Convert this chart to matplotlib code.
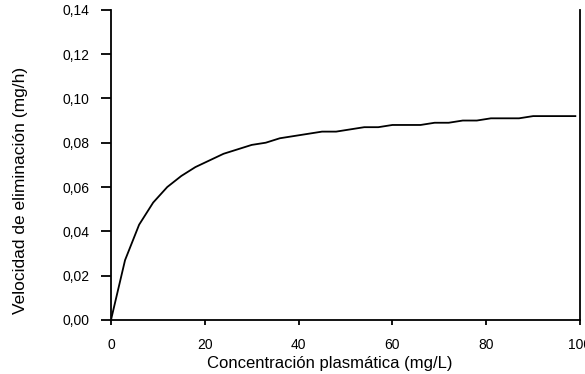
import numpy as np
from matplotlib import pyplot as plt
from matplotlib.ticker import FuncFormatter

# plasma concentration (mg/L) and elimination rate (mg/h)
concentracion = [0, 3, 6, 9, 12, 15, 18, 21, 24, 27, 30, 33, 36, 39, 42, 45, 48,
                 51, 54, 57, 60, 63, 66, 69, 72, 75, 78, 81, 84, 87, 90, 93, 96, 99]
velocidad = [0.000, 0.027, 0.043, 0.053, 0.060, 0.065, 0.069, 0.072, 0.075,
             0.077, 0.079, 0.080, 0.082, 0.083, 0.084, 0.085, 0.085, 0.086,
             0.087, 0.087, 0.088, 0.088, 0.088, 0.089, 0.089, 0.090, 0.090,
             0.091, 0.091, 0.091, 0.092, 0.092, 0.092, 0.092]

xticks = [0, 20, 40, 60, 80, 100]
yticks = [0.00, 0.02, 0.04, 0.06, 0.08, 0.10, 0.12, 0.14]

plt.rcParams['font.family'] = ['Liberation Sans', 'DejaVu Sans']

fig = plt.figure(figsize=(5.85, 3.74), dpi=100)
ax = fig.add_axes([0.1897, 0.1444, 0.8018, 0.8296])

ax.plot(concentracion, velocidad, color='black', linewidth=1.3)

ax.set_xlim(0, 100)
ax.set_ylim(0, 0.14)
ax.set_xticks(xticks)
ax.set_yticks(yticks)
ax.xaxis.set_major_formatter(FuncFormatter(lambda v, p: '%d' % v))
ax.yaxis.set_major_formatter(FuncFormatter(lambda v, p: ('%.2f' % v).replace('.', ',')))

ax.spines['top'].set_visible(False)
for side in ['left', 'bottom', 'right']:
    ax.spines[side].set_linewidth(1.3)
ax.tick_params(axis='y', direction='out', length=7.5, width=1.3, pad=8, labelsize=10)
ax.tick_params(axis='x', direction='out', length=3.8, width=1.3, pad=9, labelsize=10)

ax.set_xlabel('Concentración plasmática (mg/L)', fontsize=12)
ax.set_ylabel('Velocidad de eliminación (mg/h)', fontsize=12.5)
ax.xaxis.set_label_coords(0.467, -0.115)
ax.yaxis.set_label_coords(-0.177, 0.416)

fig.savefig('out.png', dpi=100)
